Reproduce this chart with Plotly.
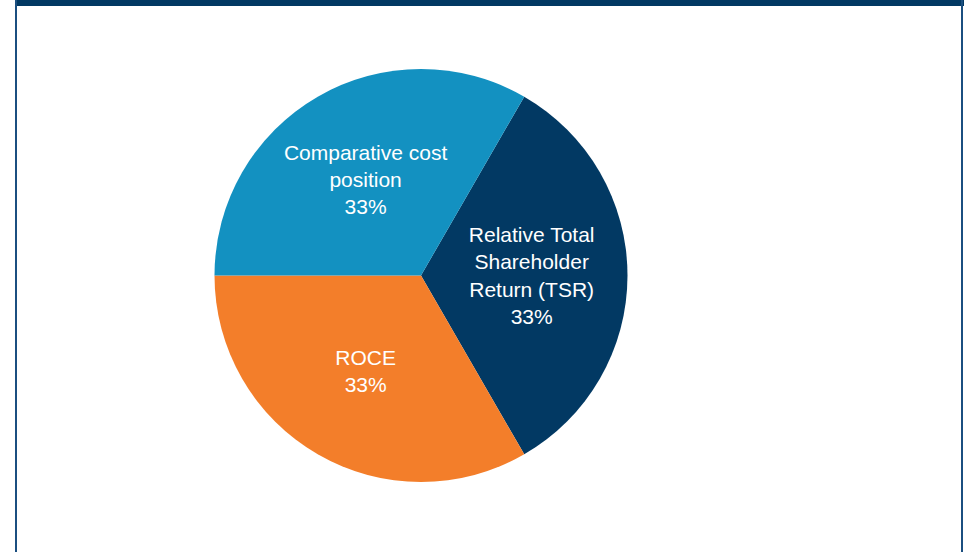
import plotly.graph_objects as go

# pie data, in drawing order (clockwise from the top-right edge)
labels = ["Relative Total<br>Shareholder<br>Return (TSR)", "ROCE", "Comparative cost<br>position"]
values = [33.3, 33.3, 33.3]
colors = ["#023963", "#F37E2A", "#1391C1"]

W, H = 965, 552
navy = "#023963"

fig = go.Figure(go.Pie(
    labels=labels,
    values=values,
    sort=False,
    direction="clockwise",
    rotation=30,
    marker=dict(colors=colors, line=dict(width=0)),
    texttemplate="%{label}<br>%{percent:.0%}",
    textposition="inside",
    insidetextorientation="horizontal",
    insidetextfont=dict(family="Liberation Sans, Arial, sans-serif", size=21, color="white"),
    hoverinfo="label+percent",
    showlegend=False,
    domain=dict(x=[214 / W, 628 / W], y=[1 - 482 / H, 1 - 69 / H]),
))

# frame: navy bar along the top and thin side rules
fig.add_shape(type="rect", xref="paper", yref="paper",
              x0=15 / W, x1=964 / W, y0=1 - 6 / H, y1=1,
              fillcolor=navy, line_width=0)
fig.add_shape(type="line", xref="paper", yref="paper",
              x0=16 / W, x1=16 / W, y0=0, y1=1,
              line=dict(color="#1B4F80", width=2))
fig.add_shape(type="line", xref="paper", yref="paper",
              x0=962 / W, x1=962 / W, y0=0, y1=1,
              line=dict(color="#1B4F80", width=2))

fig.update_layout(
    width=W, height=H,
    margin=dict(l=0, r=0, t=0, b=0),
    paper_bgcolor="white",
    plot_bgcolor="white",
)

# page body has a default 8px margin; drop it so the figure sits at the corner
fig.write_html("out.html", config={"displayModeBar": False},
               post_script="document.body.style.margin='0';")
